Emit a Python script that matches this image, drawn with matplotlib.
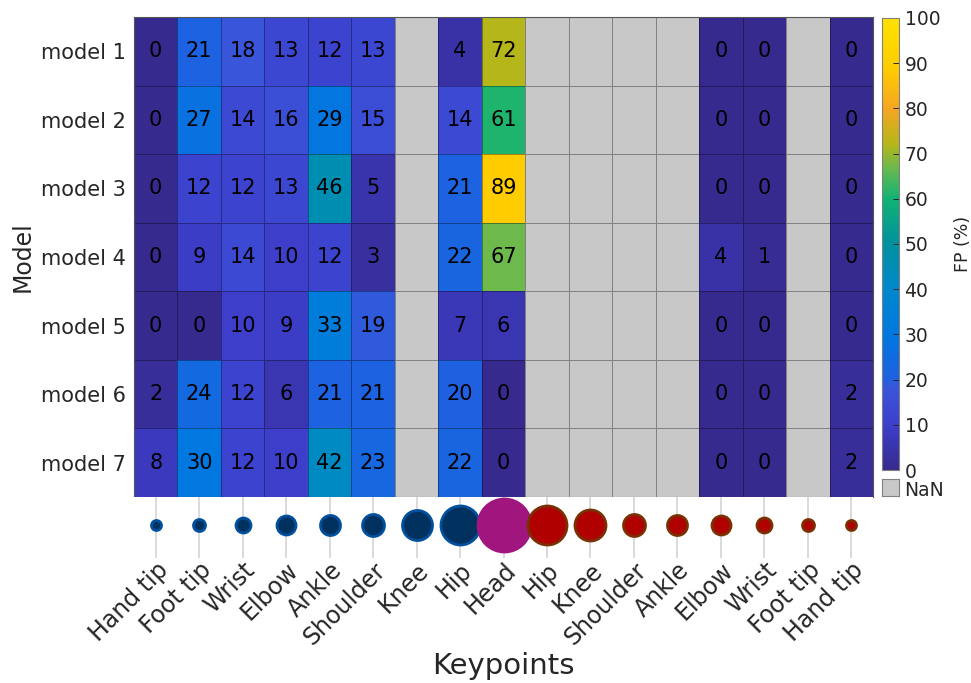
import matplotlib.pyplot as plt
import numpy as np
from matplotlib.colors import LinearSegmentedColormap

nan = np.nan

models = ['model 1', 'model 2', 'model 3', 'model 4', 'model 5', 'model 6', 'model 7']
keypoints = ['Hand tip', 'Foot tip', 'Wrist', 'Elbow', 'Ankle', 'Shoulder', 'Knee', 'Hip',
             'Head', 'Hip', 'Knee', 'Shoulder', 'Ankle', 'Elbow', 'Wrist', 'Foot tip', 'Hand tip']
sides = ['L'] * 8 + ['C'] + ['R'] * 8

# false positive rate (%) per model and keypoint
fp = [
    [0, 21, 18, 13, 12, 13, nan, 4, 72, nan, nan, nan, nan, 0, 0, nan, 0],
    [0, 27, 14, 16, 29, 15, nan, 14, 61, nan, nan, nan, nan, 0, 0, nan, 0],
    [0, 12, 12, 13, 46, 5, nan, 21, 89, nan, nan, nan, nan, 0, 0, nan, 0],
    [0, 9, 14, 10, 12, 3, nan, 22, 67, nan, nan, nan, nan, 4, 1, nan, 0],
    [0, 0, 10, 9, 33, 19, nan, 7, 6, nan, nan, nan, nan, 0, 0, nan, 0],
    [2, 24, 12, 6, 21, 21, nan, 20, 0, nan, nan, nan, nan, 0, 0, nan, 2],
    [8, 30, 12, 10, 42, 23, nan, 22, 0, nan, nan, nan, nan, 0, 0, nan, 2],
]

# marker diameter (px) for each keypoint
marker_px = [10, 12, 15, 19, 20, 22, 30, 39, 53, 39, 31, 22, 20, 19, 15, 12, 10]

cmap = LinearSegmentedColormap.from_list('fp', [
    (0.00, '#362a8e'), (0.10, '#3d3fcc'), (0.18, '#3a55da'), (0.20, '#1f60e0'),
    (0.30, '#0078e0'), (0.40, '#0088cc'), (0.50, '#00909f'), (0.60, '#10b374'),
    (0.67, '#6cb94c'), (0.72, '#b3b61a'), (0.80, '#f5a623'), (0.89, '#ffcc00'),
    (1.00, '#ffe100')])
cmap.set_bad('#c8c8c8')

W, H = 971, 683
fig = plt.figure(figsize=(W / 100, H / 100), dpi=100)


def px_axes(x0, y0, x1, y1):
    return fig.add_axes([x0 / W, 1 - y1 / H, (x1 - x0) / W, (y1 - y0) / H])


data = np.ma.masked_invalid(np.array(fp, dtype=float))
nrow, ncol = data.shape

ax = px_axes(134, 17, 873, 497)
ax.pcolormesh(data, cmap=cmap, vmin=0, vmax=100, edgecolors=(0, 0, 0, 0.35), linewidth=0.6)
ax.set_xlim(0, ncol)
ax.set_ylim(nrow, 0)
for i in range(nrow):
    for j in range(ncol):
        if not data.mask[i, j]:
            ax.text(j + 0.5, i + 0.5, f'{int(data[i, j])}', ha='center', va='center',
                    fontsize=15, color='black')
ax.set_xticks([])
ax.set_yticks(np.arange(nrow) + 0.5)
ax.set_yticklabels(models, fontsize=15, color='#262626')
ax.tick_params(axis='y', length=0, pad=6)
for s in ax.spines.values():
    s.set_color('#555555')
    s.set_linewidth(0.8)
ax.set_ylabel('Model', fontsize=17, color='#262626', labelpad=4)

# keypoint markers under the heatmap
ax2 = px_axes(134, 497, 873, 558)
ax2.set_xlim(0, ncol)
ax2.set_ylim(-1, 1)
xs = np.arange(ncol) + 0.5
face = {'L': '#00315f', 'C': '#a0157e', 'R': '#b00000'}
edge = {'L': '#00509d', 'C': '#a0157e', 'R': '#7a3000'}
for x, d, sd in zip(xs, marker_px, sides):
    ax2.scatter(x, 0.08, s=(d * 0.72) ** 2, c=face[sd], edgecolors=edge[sd],
                linewidths=2.0, zorder=3, clip_on=False)
ax2.set_xticks(xs)
ax2.set_xticklabels(keypoints, rotation=45, ha='right', va='top', rotation_mode='anchor',
                    fontsize=17, color='#262626')
ax2.tick_params(axis='x', length=0, pad=0)
ax2.set_yticks([])
ax2.grid(axis='x', color='#d4d4d4', linewidth=1.2, zorder=0)
for s in ax2.spines.values():
    s.set_visible(False)
fig.text(503 / W, 1 - 666 / H, 'Keypoints', ha='center', va='center',
         fontsize=21, color='#262626')

# colorbar
cax = px_axes(882, 18, 899, 470)
cb = fig.colorbar(ax.collections[0], cax=cax, ticks=np.arange(0, 101, 10))
cb.outline.set_edgecolor('#808080')
cb.outline.set_linewidth(0.8)
cax.tick_params(labelsize=13.5, colors='#262626', direction='in', length=4, width=0.7, pad=4)
cb.set_label('FP (%)', fontsize=12.5, color='#262626', labelpad=10)

nax = px_axes(882, 479, 899, 496)
nax.set_facecolor('#c8c8c8')
nax.set_xticks([])
nax.set_yticks([])
for s in nax.spines.values():
    s.set_color('#808080')
    s.set_linewidth(0.8)
nax.text(1.3, 0.35, 'NaN', transform=nax.transAxes, ha='left', va='center',
         fontsize=13.5, color='#262626')

fig.savefig('out.png', dpi=100)
